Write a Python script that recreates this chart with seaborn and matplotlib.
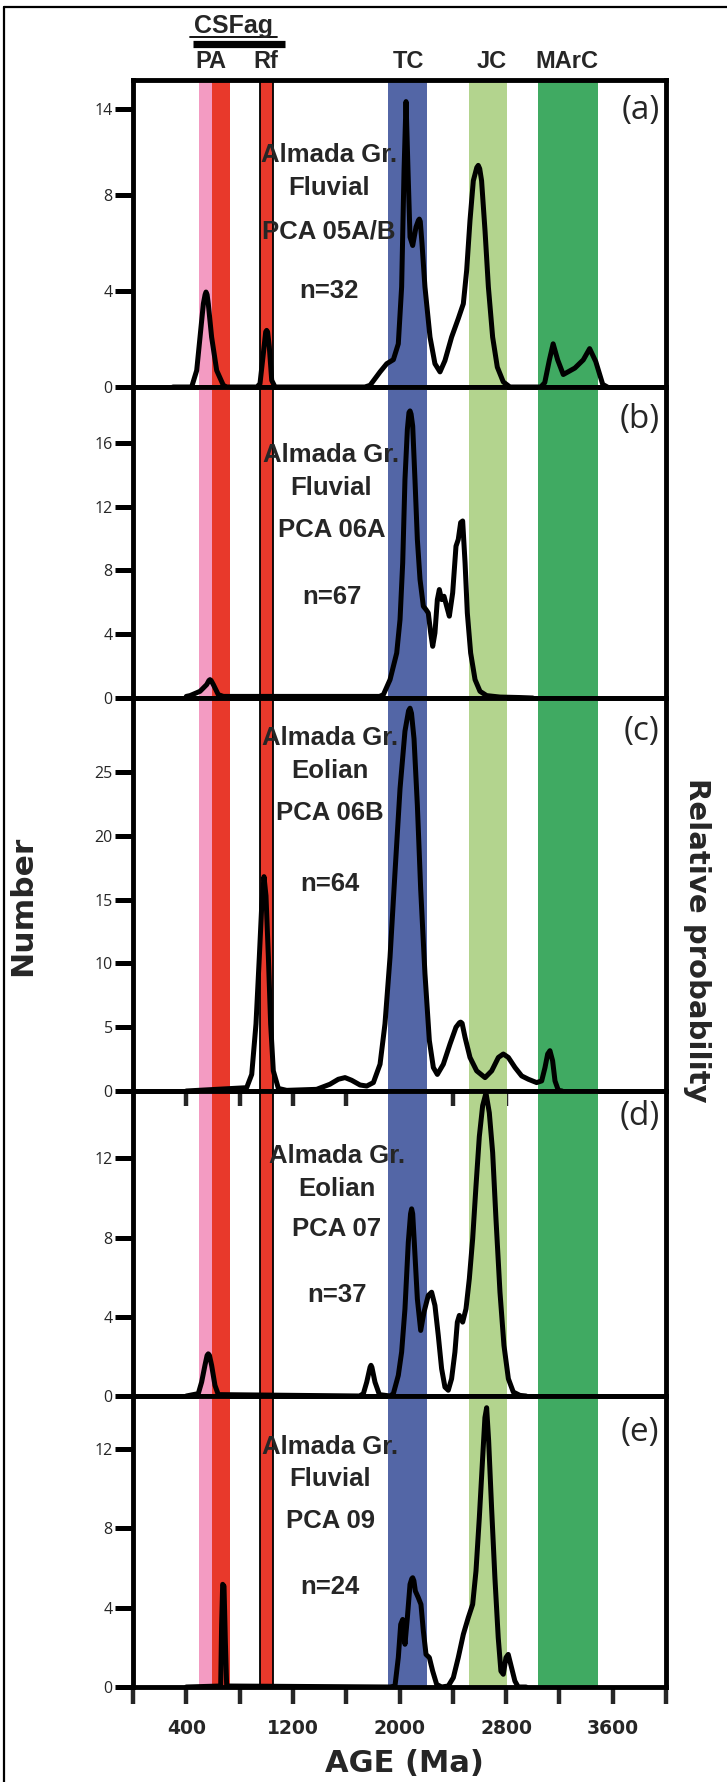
import numpy as np
import pandas as pd
import matplotlib
matplotlib.use("Agg")
import matplotlib.pyplot as plt
import seaborn as sns
from matplotlib.lines import Line2D
from matplotlib.transforms import blended_transform_factory

# ---------------- data ----------------
panel_ids = ["a", "b", "c", "d", "e"]

a_age = [300, 440, 478, 503, 528, 541, 548, 556, 565, 590, 628, 678, 703, 930, 953, 978, 996, 1003, 1010, 1023,
         1041, 1066, 1740, 1779, 1854, 1904, 1954, 1991, 2016, 2034, 2049, 2064, 2079, 2099, 2124, 2142, 2149,
         2156, 2169, 2191, 2229, 2266, 2304, 2341, 2391, 2441, 2479, 2504, 2529, 2554, 2580, 2591, 2602, 2616,
         2642, 2667, 2699, 2734, 2779, 2829, 3060, 3090, 3125, 3153, 3187, 3229, 3316, 3379, 3427, 3473, 3525,
         3560]
a_val = [0, 0, 0.69, 2.08, 3.47, 3.85, 3.96, 3.85, 3.47, 2.08, 0.69, 0.07, 0, 0, 0.14, 1.39, 2.3, 2.36, 2.3, 1.67,
         0.28, 0, 0, 0.07, 0.63, 0.97, 1.14, 1.8, 4.17, 9.0, 11.9, 9.0, 6.25, 5.9, 6.67, 6.95, 7.0,
         6.9, 5.97, 4.17, 2.08, 0.97, 0.63, 1.1, 2.08, 2.85, 3.47, 4.86, 6.94, 8.6, 9.15, 9.24, 9.1, 8.6,
         6.5, 4.17, 2.08, 0.83, 0.21, 0, 0, 0.18, 1.13, 1.80, 1.13, 0.52, 0.79, 1.13, 1.60, 1.06, 0.11,
         0]

b_age = [400, 428, 503, 553, 570, 578, 586, 603, 640, 678, 1850, 1879, 1929, 1979, 2004, 2024, 2041, 2059,
         2071, 2079, 2087, 2099, 2116, 2134, 2154, 2179, 2199, 2216, 2234, 2249, 2266, 2284, 2299, 2316, 2334,
         2354, 2374, 2399, 2424, 2441, 2459, 2474, 2492, 2509, 2534, 2567, 2604, 2654, 2754, 2900, 3000]
b_val = [0.1, 0.15, 0.42, 0.84, 1.1, 1.15, 1.1, 0.84, 0.21, 0.1, 0.1, 0.21, 1.15, 2.82, 4.92, 8.47, 13.7, 16.84,
         17.9, 18.0, 17.8, 17.05, 13.7, 9.94, 7.43, 5.75, 5.54, 5.33, 4.08, 3.24, 4.08, 6.17, 6.8, 6.17, 6.38,
         5.75, 5.13, 6.59, 9.52, 9.94, 11.0, 11.1, 8.47, 5.33, 2.82, 1.15, 0.42, 0.15, 0.06, 0.03, 0]

c_age = [400, 853, 891, 923, 948, 966, 983, 998, 1016, 1033, 1053, 1091, 1153, 1378, 1478, 1541, 1591,
         1641, 1704, 1754, 1804, 1854, 1891, 1929, 1966, 2004, 2041, 2068, 2079, 2090, 2109, 2134, 2159,
         2191, 2224, 2254, 2284, 2329, 2379, 2424, 2450, 2459, 2470, 2492, 2529, 2579, 2642, 2692, 2742,
         2779, 2817, 2867, 2917, 2967, 3029, 3067, 3092, 3112, 3129, 3149, 3167, 3192, 3220]
c_val = [0, 0.26, 1.3, 5.26, 10.5, 14.5, 16.8, 15.3, 10.5, 5.26, 1.58, 0.2, 0.05, 0.13, 0.53, 0.92, 1.05,
         0.84, 0.47, 0.39, 0.66, 2.1, 5.26, 10.5, 17.1, 23.7, 28.2, 29.8, 30.0, 29.6, 27.6, 22.4, 15.8,
         9.2, 3.95, 1.84, 1.3, 2.1, 3.68, 5.0, 5.35, 5.4, 5.3, 4.2, 2.63, 1.58, 1.05, 1.58, 2.63,
         2.9, 2.63, 1.84, 1.18, 0.92, 0.66, 0.79, 1.84, 2.9, 3.16, 2.37, 0.79, 0.05, 0]

d_age = [400, 490, 515, 540, 556, 565, 574, 590, 615, 640, 1700, 1729, 1754, 1779, 1786, 1793, 1816, 1849,
         1930, 1954, 1991, 2016, 2041, 2066, 2083, 2091, 2099, 2111, 2134, 2159, 2184, 2216, 2241, 2266, 2291,
         2316, 2341, 2366, 2391, 2416, 2434, 2449, 2474, 2499, 2524, 2549, 2574, 2599, 2624, 2649, 2674,
         2699, 2724, 2754, 2784, 2817, 2854, 2904, 2950]
d_val = [0, 0.12, 0.7, 1.55, 2.05, 2.13, 2.05, 1.55, 0.54, 0.07, 0, 0.12, 0.7, 1.45, 1.55, 1.45, 0.7, 0.07,
         0, 0.12, 1.04, 2.22, 4.4, 7.76, 9.2, 9.45, 9.2, 7.76, 4.9, 3.31, 4.24, 5.08, 5.24, 4.57, 3.06,
         1.38, 0.45, 0.29, 0.87, 2.22, 3.73, 4.07, 3.73, 4.4, 5.92, 7.93, 10.6, 13.1, 14.66, 15.3, 14.3,
         12.3, 8.94, 5.24, 2.55, 0.87, 0.2, 0.03, 0]

e_age = [400, 658, 665, 673, 683, 693, 703, 1930, 1966, 1991, 2009, 2024, 2041, 2059, 2079, 2092, 2099, 2108,
         2119, 2141, 2161, 2179, 2199, 2224, 2249, 2279, 2316, 2366, 2404, 2441, 2479, 2516, 2549, 2574,
         2599, 2624, 2641, 2654, 2669, 2691, 2716, 2741, 2761, 2779, 2799, 2816, 2841, 2866, 2891, 2950]
e_val = [0, 0.05, 3.15, 5.17, 5.08, 2.3, 0.05, 0, 0.05, 1.48, 3.15, 3.4, 2.15, 3.49, 5.17, 5.45, 5.5, 5.35,
         4.83, 4.5, 4.16, 2.82, 1.64, 1.48, 0.8, 0.13, 0, 0.05, 0.47, 1.48, 2.65, 3.49, 4.16, 5.84,
         8.52, 11.54, 13.56, 14.06, 12.4, 9.03, 5.5, 2.48, 0.8, 0.64, 1.48, 1.64, 0.97, 0.3, 0, 0]

curves_age = [a_age, b_age, c_age, d_age, e_age]
curves_val = [a_val, b_val, c_val, d_val, e_val]

# y axes: top of scale, tick positions and tick labels as printed
y_top = [12.8, 19.5, 30.8, 15.4, 14.65]
y_tick_pos = [[0, 4, 8, 11.6], [0, 4, 8, 12, 16], [0, 5, 10, 15, 20, 25], [0, 4, 8, 12], [0, 4, 8, 12]]
y_tick_lab = [["0", "4", "8", "14"], ["0", "4", "8", "12", "16"], ["0", "5", "10", "15", "20", "25"],
              ["0", "4", "8", "12"], ["0", "4", "8", "12"]]

x_ticks = list(range(0, 4001, 400))
x_tick_lab = ["", "400", "", "1200", "", "2000", "", "2800", "", "3600", ""]

# reference age bands
band_start = [495, 595, 950, 1915, 2520, 3040]
band_end = [595, 730, 1050, 2205, 2810, 3490]
band_colors = ["#F39BC2", "#E8392B", "#E8392B", "#5366A6", "#B3D48E", "#40AA62"]
band_edge = [False, False, True, False, False, False]

region_labels = ["PA", "Rf", "TC", "JC", "MArC"]
region_label_age = [585, 995, 2064, 2690, 3256]

sample_text = [["Almada Gr.", "Fluvial", "PCA 05A/B", "n=32"],
               ["Almada Gr.", "Fluvial", "PCA 06A", "n=67"],
               ["Almada Gr.", "Eolian", "PCA 06B", "n=64"],
               ["Almada Gr.", "Eolian", "PCA 07", "n=37"],
               ["Almada Gr.", "Fluvial", "PCA 09", "n=24"]]
panel_letters = ["(a)", "(b)", "(c)", "(d)", "(e)"]

# ---------------- layout ----------------
sns.set_style("white")
plt.rcParams["font.family"] = ["DejaVu Sans"]

W, H = 727, 1782
fig = plt.figure(figsize=(W / 100, H / 100), dpi=100)

ax_left, ax_right = 133, 666
panel_px = [(80, 387), (387, 698), (698, 1091), (1091, 1396), (1396, 1687)]
text_x_age = [1470, 1490, 1480, 1530, 1480]
text_y = [[0.732, 0.626, 0.485, 0.289], [0.758, 0.653, 0.517, 0.302], [0.881, 0.796, 0.690, 0.508],
          [0.7635, 0.6565, 0.5235, 0.3095], [0.801, 0.692, 0.545, 0.320]]
letter_y = [0.902, 0.894, 0.916, 0.915, 0.873]

ann_font = dict(family=["Liberation Sans", "DejaVu Sans"], fontweight="bold", fontsize=18.5)

axes = []
for i, pid in enumerate(panel_ids):
    top, bot = panel_px[i]
    ax = fig.add_axes([ax_left / W, (H - bot) / H, (ax_right - ax_left) / W, (bot - top) / H])
    axes.append(ax)
    ax.set_facecolor("none")
    for s, e, c, edge in zip(band_start, band_end, band_colors, band_edge):
        ax.axvspan(s, e, facecolor=c, edgecolor="black" if edge else "none",
                   linewidth=1.3 if edge else 0, zorder=0)
    df = pd.DataFrame({"age": curves_age[i], "val": curves_val[i]})
    sns.lineplot(data=df, x="age", y="val", ax=ax, color="black", linewidth=3.6,
                 estimator=None, sort=False, zorder=3,
                 solid_joinstyle="round", solid_capstyle="round")
    ax.set_xlim(0, 4000)
    ax.set_ylim(0, y_top[i])
    ax.set_xlabel("")
    ax.set_ylabel("")
    for sp in ax.spines.values():
        sp.set_visible(True)
        sp.set_linewidth(3.5)
        sp.set_color("black")
        sp.set_zorder(5)
    ax.set_yticks(y_tick_pos[i])
    ax.set_yticklabels(y_tick_lab[i], family=["Open Sans", "DejaVu Sans"], fontsize=11.5)
    ax.tick_params(axis="y", direction="out", length=13, width=3.6, pad=1.5, color="black",
                   left=True, right=False)
    if pid == "e":
        ax.set_xticks(x_ticks)
        ax.set_xticklabels(x_tick_lab, family=["DejaVu Sans"], fontweight="bold", fontsize=13.5)
        ax.tick_params(axis="x", direction="out", length=12, width=3.2, pad=11, bottom=True)
    elif pid == "c":
        ax.set_xticks(x_ticks[1:9])
        ax.set_xticklabels([""] * 8)
        ax.tick_params(axis="x", direction="out", length=11, width=3.2, bottom=True)
    else:
        ax.set_xticks([])
    tr = blended_transform_factory(ax.transData, ax.transAxes)
    for txt, ty in zip(sample_text[i], text_y[i]):
        ax.text(text_x_age[i], ty, txt, transform=tr, ha="center", va="baseline", zorder=6, **ann_font)
    ax.text(0.988, letter_y[i], panel_letters[i], transform=ax.transAxes, ha="right", va="center",
            family=["Open Sans", "DejaVu Sans"], fontsize=24, zorder=6)

# header above panel (a)
ax0 = axes[0]
tr0 = blended_transform_factory(ax0.transData, ax0.transAxes)
for lab, xa in zip(region_labels, region_label_age):
    ax0.text(xa, 1.039, lab, transform=tr0, ha="center", va="baseline", clip_on=False,
             family=["Liberation Sans", "DejaVu Sans"], fontweight="bold", fontsize=17)
ax0.text(754, 1.153, "CSFag", transform=tr0, ha="center", va="baseline", clip_on=False,
         family=["Liberation Sans", "DejaVu Sans"], fontweight="bold", fontsize=18)
ax0.add_line(Line2D([428, 1081], [1.140, 1.140], transform=tr0, color="black", linewidth=1.3,
                    clip_on=False))
ax0.add_line(Line2D([450, 1141], [1.118, 1.118], transform=tr0, color="black", linewidth=5.2,
                    clip_on=False, solid_capstyle="butt"))

# axis titles
fig.text(23 / W, (H - 906) / H, "Number", rotation=90, ha="center", va="center",
         fontweight="bold", fontsize=22.5, family=["DejaVu Sans"])
fig.text(697 / W, (H - 940) / H, "Relative probability", rotation=270, ha="center", va="center",
         fontweight="bold", fontsize=21, family=["DejaVu Sans"])
fig.text(404 / W, (H - 1764) / H, "AGE (Ma)", ha="center", va="center",
         fontweight="bold", fontsize=22, family=["DejaVu Sans"])

# outer frame (left and top edges)
fig.add_artist(Line2D([4 / W, 4 / W], [0, (H - 7) / H], transform=fig.transFigure, color="black",
                      linewidth=1.6))
fig.add_artist(Line2D([4 / W, 1], [(H - 7) / H, (H - 7) / H], transform=fig.transFigure, color="black",
                      linewidth=1.6))

fig.savefig("out.png", dpi=100, facecolor="white")
